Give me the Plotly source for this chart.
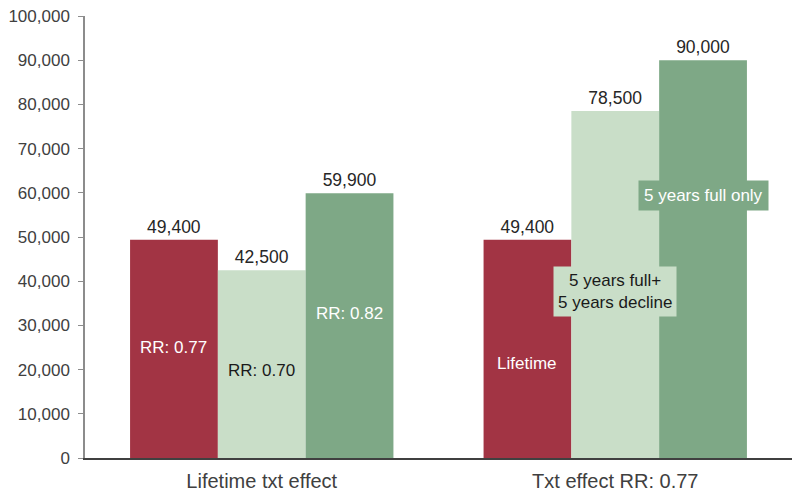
import plotly.graph_objects as go

categories = ["Lifetime txt effect", "Txt effect RR: 0.77"]
series_names = ["Lifetime", "5 years full+ 5 years decline", "5 years full only"]
values_red = [49400, 49400]
values_light = [42500, 78500]
values_dark = [59900, 90000]
value_labels_red = ["49,400", "49,400"]
value_labels_light = ["42,500", "78,500"]
value_labels_dark = ["59,900", "90,000"]
tick_vals = [0, 10000, 20000, 30000, 40000, 50000, 60000, 70000, 80000, 90000, 100000]
tick_text = ["0", "10,000", "20,000", "30,000", "40,000", "50,000", "60,000",
             "70,000", "80,000", "90,000", "100,000"]

RED = "#A23444"
LIGHT = "#C9DEC8"
DARK = "#7EA886"
FONT = "Liberation Sans, Arial, sans-serif"

fig = go.Figure()
for name, vals, labs, col in [
    (series_names[0], values_red, value_labels_red, RED),
    (series_names[1], values_light, value_labels_light, LIGHT),
    (series_names[2], values_dark, value_labels_dark, DARK),
]:
    fig.add_trace(go.Bar(
        x=categories, y=vals, name=name, marker=dict(color=col, line=dict(width=0)),
        text=labs, textposition="outside", cliponaxis=False,
        textfont=dict(family=FONT, size=17.5, color="#262626"),
    ))

ann_font_w = dict(family=FONT, size=17, color="white")
ann_font_k = dict(family=FONT, size=17, color="#1a1a1a")
annotations = [
    dict(x=categories[0], xshift=-88, y=24900, text="RR: 0.77", font=ann_font_w),
    dict(x=categories[0], xshift=0, y=19900, text="RR: 0.70", font=ann_font_k),
    dict(x=categories[0], xshift=88, y=32800, text="RR: 0.82", font=ann_font_w),
    dict(x=categories[1], xshift=-88, y=21300, text="Lifetime", font=ann_font_w),
    dict(x=categories[1], xshift=0, y=37600, text="5 years full+<br>5 years decline",
         font=ann_font_k, bgcolor=LIGHT, borderpad=4),
    dict(x=categories[1], xshift=88, y=59300, text="5 years full only",
         font=ann_font_w, bgcolor=DARK, borderpad=5),
]
for a in annotations:
    a.update(xref="x", yref="y", showarrow=False)
    fig.add_annotation(**a)

# page body has an 8px default margin, so the figure is sized to fit inside it
fig.update_layout(
    width=784, height=483,
    margin=dict(l=77, r=0, t=8, b=33, autoexpand=False),
    barmode="group", bargap=0.255, bargroupgap=0,
    plot_bgcolor="white", paper_bgcolor="white",
    showlegend=False,
    font=dict(family=FONT, size=17, color="#404040"),
)
fig.update_yaxes(
    range=[0, 100000], tickvals=tick_vals, ticktext=tick_text,
    showgrid=False, zeroline=False, showline=True, linecolor="#8c8c8c", linewidth=1.5,
    ticks="outside", ticklen=5, tickcolor="#8c8c8c", automargin=False,
    ticklabelstandoff=5, ticklabeloverflow="allow",
    tickfont=dict(family=FONT, size=17, color="#404040"),
)
fig.update_xaxes(
    showgrid=False, showline=True, linecolor="#404040", linewidth=1.5,
    ticks="", automargin=False, ticklabelstandoff=4,
    tickfont=dict(family=FONT, size=20, color="#404040"),
)

fig.write_html("out.html")
